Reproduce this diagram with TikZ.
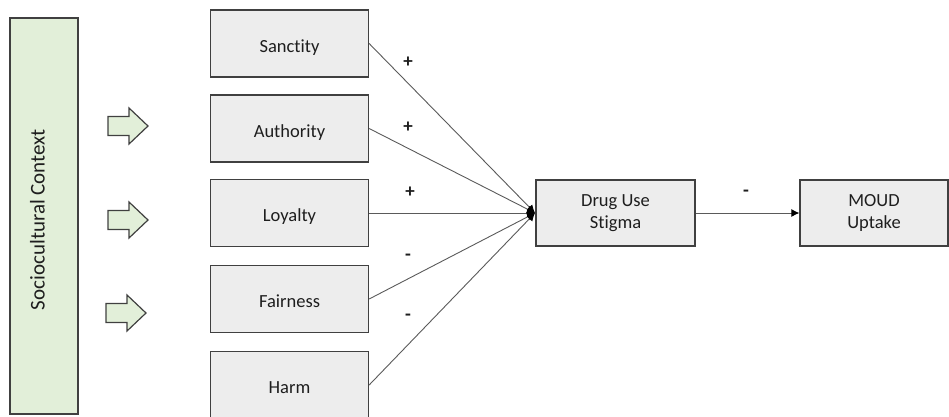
\documentclass[tikz,border=0pt]{standalone}
\usepackage{fontspec}
\setmainfont{Carlito}[Ligatures={NoCommon}]
\usetikzlibrary{arrows.meta}
\definecolor{ctxgreen}{HTML}{E2EFD9}
\definecolor{boxgray}{HTML}{EDEDED}
\definecolor{edgegray}{HTML}{404040}
\definecolor{linegray}{HTML}{5A5A5A}
\definecolor{txt}{HTML}{1E1E1E}
\newcommand{\lowtext}[1]{\raisebox{-8.5pt}[0pt][0pt]{#1}}
\tikzset{
  factor/.style={draw=edgegray, line width=1.3pt, fill=boxgray, minimum width=158pt, minimum height=67pt, inner sep=0pt, font=\fontsize{18.5}{22}\selectfont, text=txt, align=center},
  link/.style={draw=linegray, line width=0.9pt, -{Latex[length=8pt,width=8pt,fill=black,color=black]}},
  sign/.style={font=\fontsize{19}{20}\selectfont\bfseries, text=txt, inner sep=0pt},
  blockarrow/.style={draw=edgegray, line width=1.2pt, fill=ctxgreen, line join=miter}
}
\begin{document}
\begin{tikzpicture}[x=1pt,y=-1pt]
\useasboundingbox (0,0) rectangle (949,416);
% context bar
\node[draw=edgegray, line width=1.3pt, fill=ctxgreen, minimum width=68pt, minimum height=396pt, inner sep=0pt] (ctx) at (44,216) {};
\node[rotate=90, anchor=base, font=\fontsize{21}{24}\selectfont, text=txt] (ctxlabel) at (44.5,219.5) {Sociocultural Context};
% block arrows
\foreach \cy/\cx [count=\i] in {126/108, 220/108, 313/106}{
  \draw[blockarrow] (\cx,\cy-9.5) -- (\cx+21,\cy-9.5) -- (\cx+21,\cy-18) -- (\cx+40,\cy) -- (\cx+21,\cy+18) -- (\cx+21,\cy+9.5) -- (\cx,\cy+9.5) -- cycle;
}
% factors
\node[factor] (san) at (289.5,43.5) {\lowtext{Sanctity}};
\node[factor] (aut) at (289.5,128.5) {\lowtext{Authority}};
\node[factor] (loy) at (289.5,213) {\lowtext{Loyalty}};
\node[factor] (fai) at (289.5,299) {\lowtext{Fairness}};
\node[factor] (har) at (289.5,385) {\lowtext{Harm}};
% outcome boxes
\node[factor, minimum width=159pt, minimum height=66pt] (stig) at (615.5,213) {Drug Use\\Stigma};
\node[factor, minimum width=148pt, minimum height=66pt] (moud) at (874,213) {MOUD\\Uptake};
\coordinate (conv) at (535,213);
% links
\draw[link] (san.east) -- (conv);
\draw[link] (aut.east) -- (conv);
\draw[link] (loy.east) -- (conv);
\draw[link] (fai.east) -- (conv);
\draw[link] (har.east) -- (conv);
\draw[link] (stig.east) -- (moud.west);
% signs
\node[sign] (s1) at (408,62) {+};
\node[sign] (s2) at (408,127) {+};
\node[sign] (s3) at (410,192) {+};
\node[sign] (s4) at (408,257) {-};
\node[sign] (s5) at (408,317) {-};
\node[sign] (s6) at (746,193) {-};
\end{tikzpicture}
\end{document}
